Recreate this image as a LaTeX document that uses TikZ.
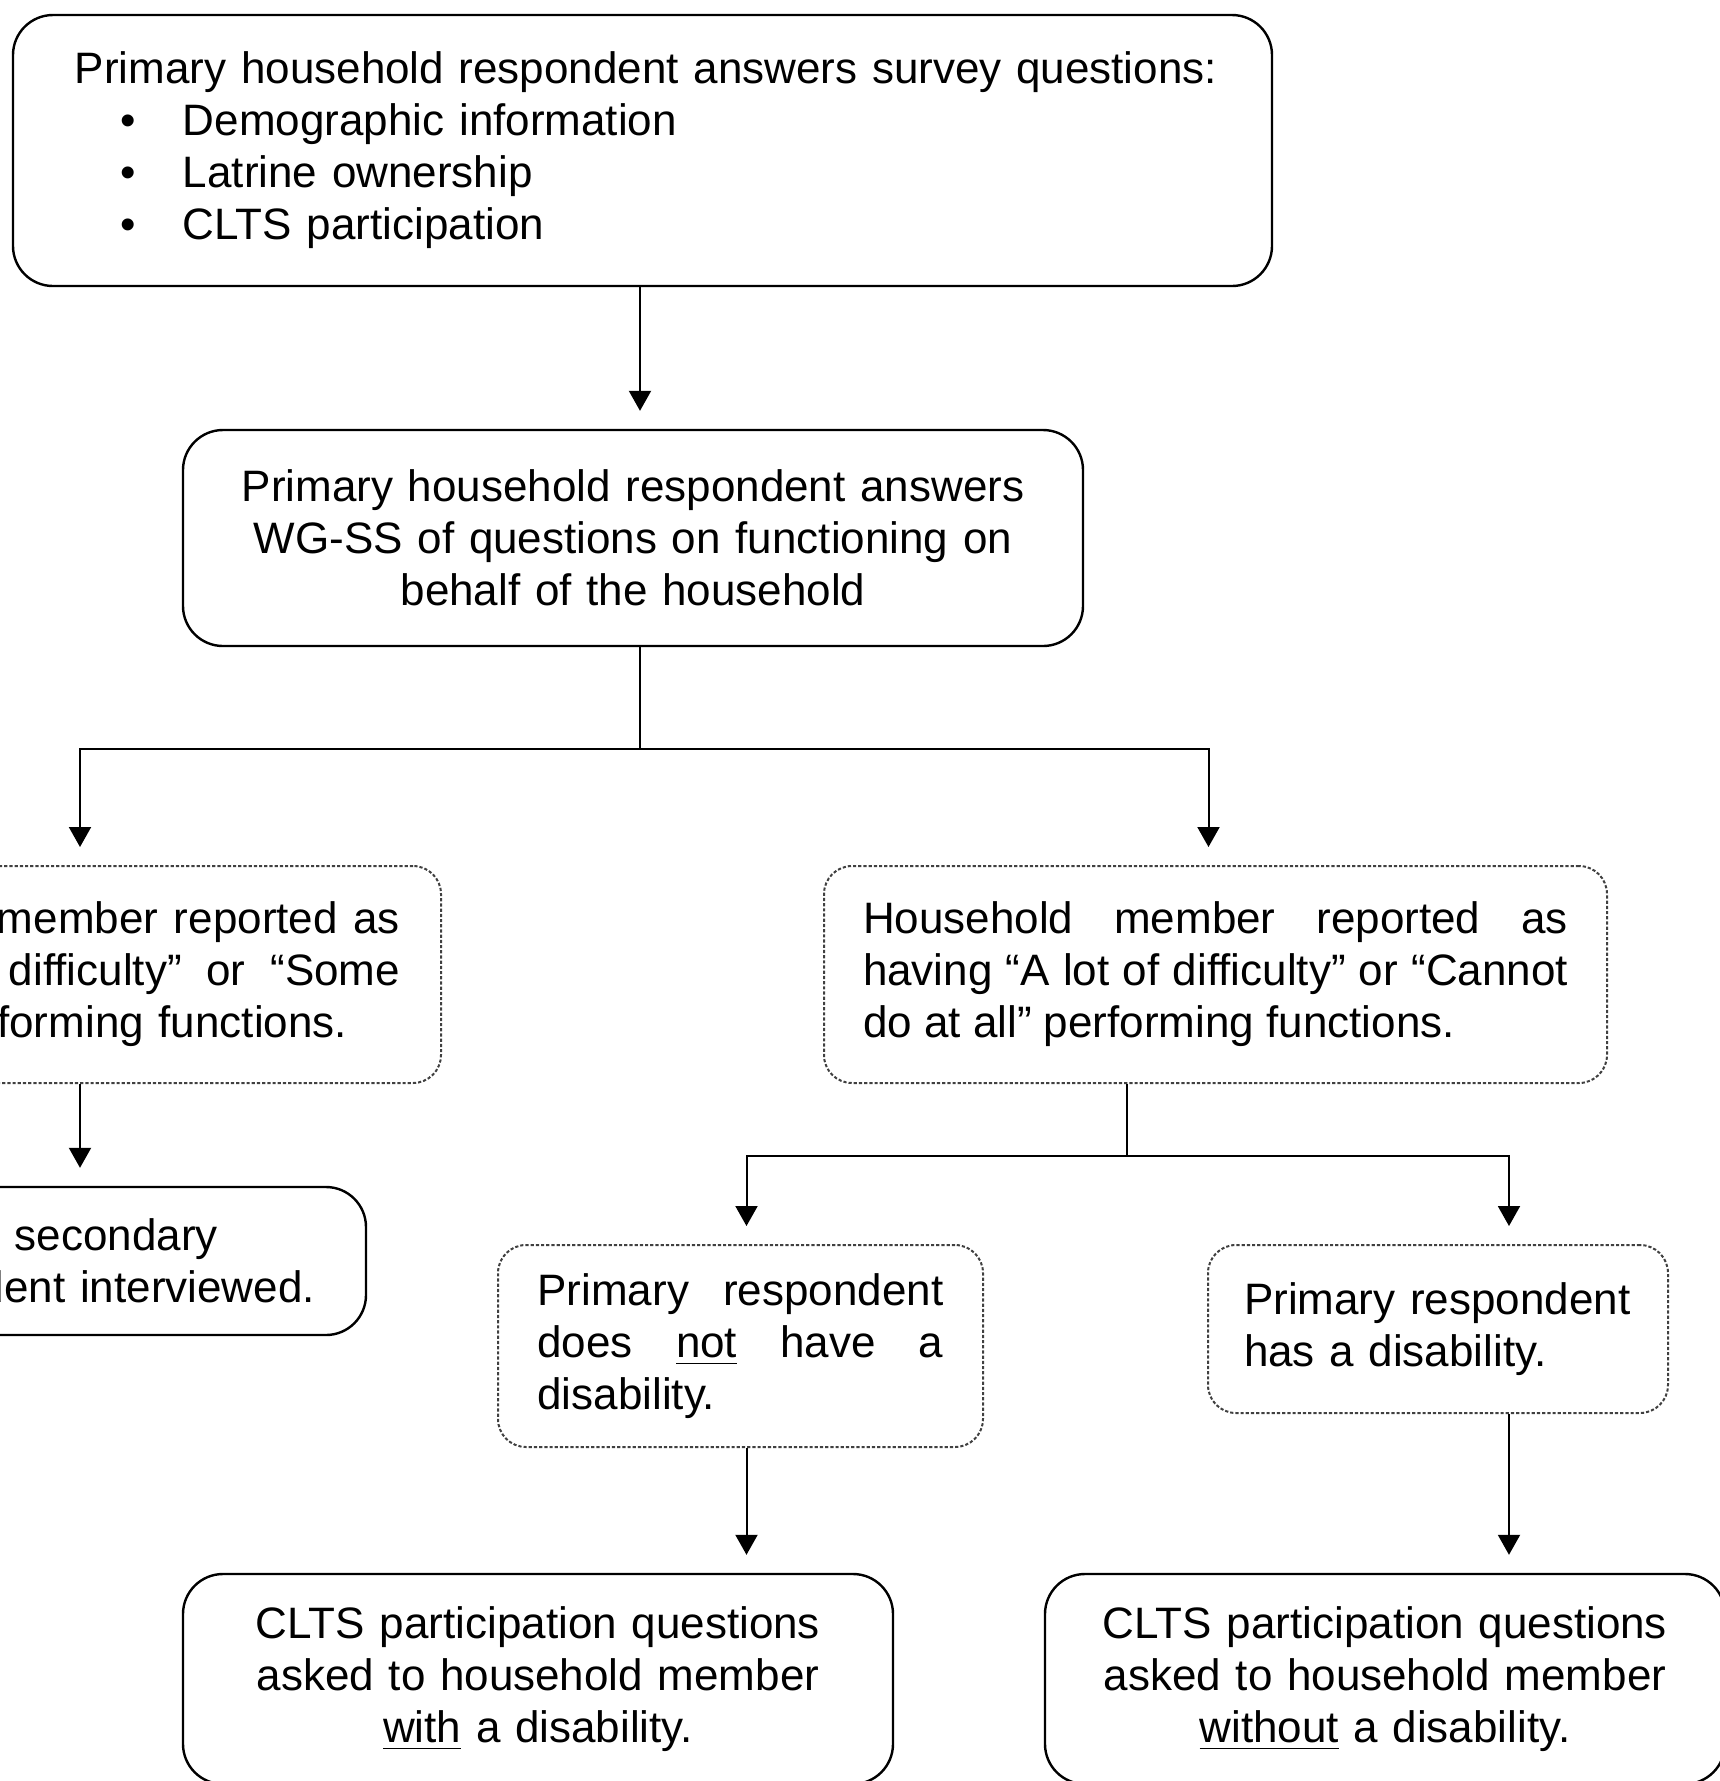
\documentclass[tikz,border=0pt]{standalone}
\usepackage{fontspec}
\setmainfont{Liberation Sans}
\usepackage{tikz}
\usetikzlibrary{arrows.meta, calc}

\newcommand{\bul}{\makebox[27pt][l]{\hspace*{11.5pt}\textbullet}}

\tikzset{
    txt/.style={font=\fontsize{11pt}{13pt}\selectfont, inner ysep=2pt},
    solidbox/.style={txt, draw, line width=0.6pt, rounded corners=10pt},
    dotbox/.style={txt, draw=black!75, line width=0.5pt, dash pattern=on 0.8pt off 0.5pt, rounded corners=7pt},
    line/.style={line width=0.5pt},
    arr/.style={line, -{Triangle[width=5.5pt,length=5pt]}, shorten >=4.5pt}
}

\begin{document}
\begin{tikzpicture}[x=0.25pt, y=-0.25pt]
    \useasboundingbox (0,0) rectangle (1720,1781);
    \clip (0,0) rectangle (1720,1781);
    % Survey
    \node[solidbox, text width=283.75pt, inner xsep=15.5pt, minimum height=67.75pt, align=left] (survey) at (642.5,150.5)
        {\mbox{Primary household respondent answers survey questions:}\\
         \bul Demographic information\\
         \bul Latrine ownership\\
         \bul CLTS participation};
    \node[solidbox, text width=200pt, inner xsep=12.5pt, minimum height=54pt, align=center] (wgss) at (633,538)
        {Primary household respondent answers\\ WG-SS of questions on functioning on\\ behalf of the household};
    % Difficulty
    \node[dotbox, text width=160pt, inner xsep=10.25pt, minimum height=54.25pt, align=right] (ldiff) at (80,974.5)
        {\makebox[100.75pt]{member\hfill reported\hfill as}\\
         \makebox[97.75pt]{difficulty''\hfill or\hfill ``Some}\\
         forming functions.\makebox[13.25pt]{}};
    \node[dotbox, text width=176.25pt, inner xsep=9.75pt, minimum height=54.25pt, align=justify] (rdiff) at (1215.5,974.5)
        {Household member reported as\linebreak having ``A lot of difficulty'' or ``Cannot\linebreak do at all'' performing functions.};
    \node[solidbox, text width=117.5pt, inner xsep=12.75pt, minimum height=37pt, align=right] (nosec) at (80,1261)
        {secondary\makebox[24.25pt]{}\\ dent interviewed.};
    % Respondent
    \node[dotbox, text width=101.5pt, inner xsep=9.875pt, minimum height=50.5pt, align=justify] (nodis) at (740.5,1346)
        {Primary respondent\linebreak does \underline{not} have a\linebreak disability.};
    \node[dotbox, text width=97pt, inner xsep=9pt, minimum height=42pt, align=left] (hasdis) at (1438,1329)
        {Primary respondent\\ has a disability.};
    % CLTS questions
    \node[solidbox, text width=160pt, inner xsep=8.75pt, minimum height=52.5pt, align=center] (withq) at (538,1679)
        {CLTS participation questions\\ asked to household member\\ \underline{with} a disability.};
    \node[solidbox, text width=155pt, inner xsep=7.5pt, minimum height=52.5pt, align=center] (withoutq) at (1385,1679)
        {CLTS participation questions\\ asked to household member\\ \underline{without} a disability.};
    % Connectors
    \coordinate (trunk) at (640,749);
    \coordinate (split) at (1127,1156);
    \draw[arr] (survey.south -| trunk) -- (wgss.north -| trunk);
    \draw[line] (wgss.south -| trunk) -- (trunk);
    \draw[arr] (trunk) -| (ldiff.north);
    \draw[arr] (trunk) -| ([xshift=-1.75pt]rdiff.north);
    \draw[arr] (ldiff.south) -- (nosec.north);
    \draw[line] (rdiff.south -| split) -- (split);
    \draw[arr] (split) -| ([xshift=1.5pt]nodis.north);
    \draw[arr] (split) -| ([xshift=17.75pt]hasdis.north);
    \draw[arr] ([xshift=1.5pt]nodis.south) -- ([xshift=1.5pt]nodis.south |- withq.north);
    \draw[arr] ([xshift=17.75pt]hasdis.south) -- ([xshift=17.75pt]hasdis.south |- withoutq.north);
\end{tikzpicture}
\end{document}
